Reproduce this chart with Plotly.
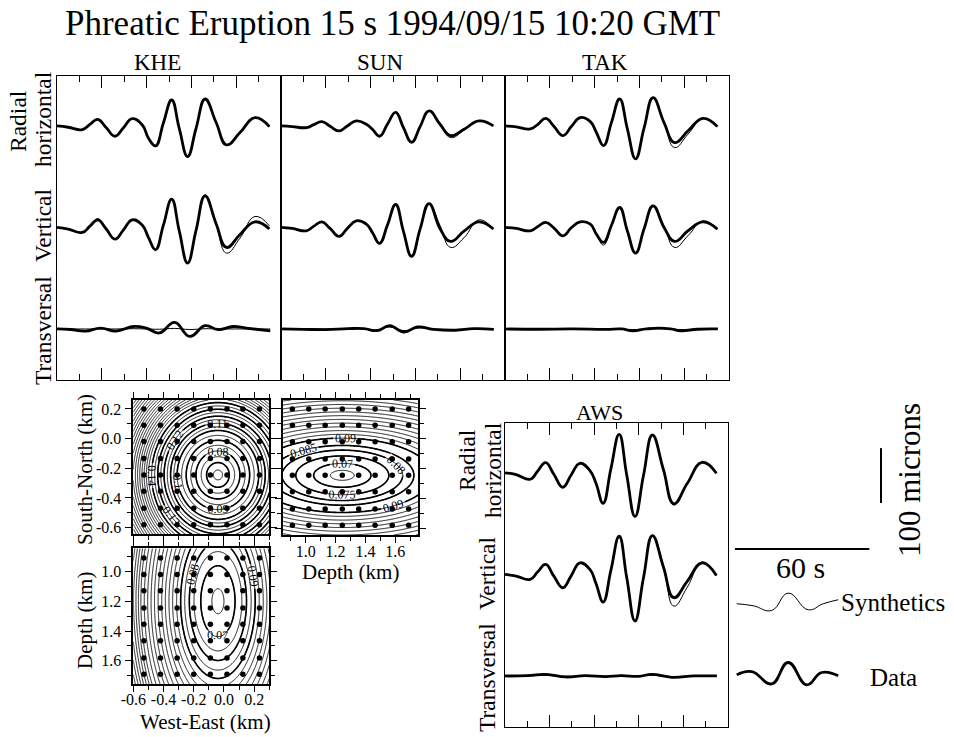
import numpy as np
import plotly.graph_objects as go

W, H = 954, 737
FONT = "Liberation Serif"

# ---------------- waveform readings (time in s, amplitude in microns) ----------------
T = [0, 5, 11.3, 14.7, 18.2, 21.9, 25.9, 29.6, 33.6, 38.1, 40.8, 44.0, 47.5, 51.2,
     54.6, 58.3, 62.1, 66.1, 71.0, 75.7, 81.7, 88.4, 94.8]

KHE_R_DATA = [0, -2.4, -6.7, 2.7, 12.1, -3.0, -18.8, -3.6, 13.3, 1.8, -22, -36.4, 5.5, 47.3,
              -4.8, -55.8, -4.2, 49.1, 6.7, -34.5, -12.1, 15.2, -1.2]
KHE_R_SYN = [0, -2.4, -6.7, 2.7, 12.1, -3.0, -18.8, -3.6, 13.3, 1.8, -22, -36.4, 5.5, 47.3,
             -4.8, -57.5, -4.2, 49.1, 6.7, -35.5, -12.1, 15.2, -1.2]
KHE_V_DATA = [0, -3.0, -9.1, 2.4, 13.9, -2.4, -21.2, -4.8, 13.9, 4.0, -18, -40.6, 4.2, 51.5,
              -6.7, -64.8, -4.8, 57.6, 7.3, -36.4, -12.7, 10.3, -3.0]
KHE_V_SYN = [0, -3.0, -9.1, 2.4, 16.0, -2.4, -21.2, -4.8, 13.9, 4.0, -18, -40.6, 4.2, 51.5,
             -6.7, -64.8, -4.8, 59.4, 5.0, -46.7, -19.4, 20.0, 3.0]

SUN_R_DATA = [0, -1.2, -3.0, 2.4, 7.9, -0.6, -9.1, 0, 9.1, 3.0, -6.0, -18.8, 3.0, 24.8,
              -2.4, -29.7, -1.2, 27.3, 3.0, -17.6, -6.0, 9.1, 0]
SUN_R_SYN = [0, -1.2, -3.0, 2.4, 7.9, -0.6, -9.1, 0, 9.1, 3.0, -6.0, -18.8, 3.0, 24.8,
             -2.4, -29.7, -1.2, 27.3, 3.0, -21.2, -7.9, 9.1, 0]
SUN_V_DATA = [0, -1.8, -6.1, 2.4, 10.3, -1.8, -16.4, -1.8, 12.1, 6.1, -9.1, -29.1, 4.2, 41.8,
              -6.1, -52.7, -3.0, 43.6, -2.4, -25.5, -6.7, 10.3, -3.0]
SUN_V_SYN = [0, -1.8, -6.1, 2.4, 10.3, -1.8, -16.4, -1.8, 12.1, 6.1, -9.1, -29.1, 4.2, 41.8,
             -6.1, -52.7, -3.0, 43.6, 3.6, -36.4, -18.8, 13.9, -3.0]

TAK_R_DATA = [0, -1.8, -5.5, 3.0, 13.9, -1.2, -17.6, -1.2, 15.2, 7.9, -12, -35.8, 6.0, 49.1,
              -4.8, -60.0, -3.6, 51.5, 6.0, -30.3, -9.0, 13.9, -1.2]
TAK_R_SYN = [0, -1.8, -5.5, 3.0, 13.9, -1.2, -17.6, -1.2, 15.2, 7.9, -12, -35.8, 6.0, 49.1,
             -4.8, -60.0, -3.6, 51.5, 6.0, -39.4, -15.0, 13.9, -1.2]
TAK_V_DATA = [0, -1.8, -6.1, 1.8, 9.1, -1.2, -15.2, -0.6, 10.3, 6.1, -12.1, -27.3, 3.6, 36.4,
              -6.1, -46.7, -2.4, 39.4, 0, -25.5, -6.0, 10.3, -3.0]
TAK_V_SYN = [0, -1.8, -6.1, 1.8, 9.1, -1.2, -15.2, -0.6, 10.3, 6.1, -12.1, -32.1, 3.6, 36.4,
             -6.1, -46.7, -2.4, 39.4, 3.0, -36.4, -15.0, 12.1, -3.0]

AWS_R_DATA = [0, -3.0, -11.5, 3.6, 18.8, -2.4, -26.1, -4.2, 17.6, 4.2, -18.8, -55.2, 7.9, 70.4,
              -4.2, -79.4, -4.8, 69.1, 6.7, -56.4, -19.4, 19.4, -0.6]
AWS_R_SYN = [0, -3.0, -11.5, 3.6, 18.8, -2.4, -26.1, -4.2, 17.6, 4.2, -18.8, -55.2, 7.9, 70.4,
             -4.2, -79.4, -4.8, 69.1, 6.7, -58.5, -20.5, 19.4, -0.6]
AWS_V_DATA = [0, -3.0, -9.1, 4.8, 18.2, -3.0, -24.2, -3.0, 21.2, 9.1, -16.4, -50.3, 7.9, 69.7,
              -6.1, -84.8, -6.1, 70.9, 14.0, -42.4, -12.7, 21.2, -1.8]
AWS_V_SYN = [0, -3.0, -9.1, 4.8, 18.2, -3.0, -24.2, -3.0, 21.2, 9.1, -16.4, -50.3, 7.9, 66.7,
             -6.1, -84.8, -6.1, 70.9, 18.0, -57.6, -23.6, 23.0, -1.8]

# transversal components (own reading times)
KHE_T_TIME = [0, 6, 12.7, 19.5, 26.3, 34.1, 39.9, 45.7, 52.5, 59.3, 66.1, 71.9, 78.7, 84.5, 95.2]
KHE_T_DATA = [0, -1.0, -4.0, 1.5, -4.0, 4.5, 1.5, -7.3, 12.0, -13.5, 6.0, -1.0, 4.5, 1.5, -3.5]
KHE_T_SYN = [0, 0, 0, 0, 0, 0.5, 0, -0.5, 1.0, -1.0, 0.5, 0, 0, 0, 0]

SUN_T_TIME = [0, 10, 20, 30, 37, 43, 48.5, 54.9, 60.9, 68, 78, 86, 95]
SUN_T_DATA = [0, -0.6, -1.2, 0.6, 0.6, -3.0, 6.0, -5.5, 3.6, -0.6, -2.4, 0.6, -0.6]
SUN_T_SYN = [0, 0, 0, 0, 0, -1.5, 3.5, -3.0, 1.5, 0, -0.5, 0, 0]

TAK_T_TIME = [0, 15, 30, 45, 52, 57, 63, 68.8, 74, 78.6, 86, 95]
TAK_T_DATA = [0, -0.5, 0, -0.8, 0, -3.5, 0, 1.6, 0, -3.5, -0.5, 0]
TAK_T_SYN = [0, 0, 0, 0, 0, -1.0, 0, 0.5, 0, -1.0, 0, 0]

AWS_T_TIME = [0, 10, 18.3, 27.2, 36, 45, 52, 60, 65.9, 74.8, 85, 95]
AWS_T_DATA = [0, 0.6, 3.0, -1.8, 0.6, -1.2, 0.6, -0.6, 3.0, -2.4, 0, 0]
AWS_T_SYN = [0, 0, 1.0, -0.6, 0, -0.6, 0, 0, 1.0, -1.0, 0, 0]

STATIONS = ["KHE", "SUN", "TAK", "AWS"]
WAVES = {
    "KHE": (KHE_R_DATA, KHE_R_SYN, KHE_V_DATA, KHE_V_SYN, KHE_T_TIME, KHE_T_DATA, KHE_T_SYN),
    "SUN": (SUN_R_DATA, SUN_R_SYN, SUN_V_DATA, SUN_V_SYN, SUN_T_TIME, SUN_T_DATA, SUN_T_SYN),
    "TAK": (TAK_R_DATA, TAK_R_SYN, TAK_V_DATA, TAK_V_SYN, TAK_T_TIME, TAK_T_DATA, TAK_T_SYN),
    "AWS": (AWS_R_DATA, AWS_R_SYN, AWS_V_DATA, AWS_V_SYN, AWS_T_TIME, AWS_T_DATA, AWS_T_SYN),
}

# legend sample waves and scale bars
LEG_T_SYN = [3.0, 10.4, 18.6, 26.0, 34.9, 41.6, 48.3]
LEG_SYN = [-2.4, -6.1, -14.6, 17.0, -13.4, -2.4, 4.9]
LEG_T_DATA = [3.0, 9.7, 18.6, 26.0, 34.2, 40.9, 48.3]
LEG_DATA = [0, 6.1, -16.4, 22.5, -18.2, 4.3, -1.8]
SCALE_SECONDS = 60
SCALE_MICRONS = 100

# ---------------- misfit grid-search readings ----------------
WE_TICKS = [-0.6, -0.4, -0.2, 0.0, 0.2]
WE_LABELS = ["-0.6", "-0.4", "-0.2", "0.0", "0.2"]
SN_TICKS = [-0.6, -0.4, -0.2, 0.0, 0.2]
SN_LABELS = ["-0.6", "-0.4", "-0.2", "0.0", "0.2"]
DEPTH_TICKS = [1.0, 1.2, 1.4, 1.6]
DEPTH_LABELS = ["1.0", "1.2", "1.4", "1.6"]

DOT_WE = [-0.53, -0.42, -0.31, -0.2, -0.09, 0.02, 0.125, 0.235]
DOT_SN = [0.2, 0.09, -0.02, -0.135, -0.245, -0.355, -0.47, -0.58]
DOT_DEPTH = [0.91, 1.02, 1.13, 1.245, 1.355, 1.465, 1.58, 1.69]

R_A = [0, 0.05, 0.1, 0.2, 0.3, 0.42, 0.51, 0.85]
Z_A = [0.063, 0.066, 0.072, 0.085, 0.1, 0.125, 0.145, 0.25]
R_B = [0, 0.06, 0.14, 0.22, 0.3, 0.42, 0.51, 0.85]
Z_B = [0.063, 0.066, 0.072, 0.085, 0.1, 0.125, 0.145, 0.25]
R_C = [0, 0.05, 0.08, 0.15, 0.2, 0.25, 0.5, 0.85]
Z_C = [0.063, 0.066, 0.07, 0.077, 0.085, 0.09, 0.14, 0.21]
BEST_WE, BEST_SN, BEST_DEPTH_B, BEST_DEPTH_C = -0.04, -0.245, 1.2, 1.245

WE_RANGE = [-0.6, 0.3]
SN_RANGE = [-0.645, 0.26]
DEPTH_RANGE = [0.845, 1.755]

# ---------------- layout geometry (pixels) ----------------
PANEL_PX = {"KHE": (57, 281, 76, 380), "SUN": (281, 505, 76, 380),
            "TAK": (505, 729, 76, 380), "AWS": (505, 728, 423, 727)}
LEGEND_PX = (730, 954, 423, 727)
CONT_PX = {"A": (133.3, 269.3, 400, 534.3), "B": (133.3, 269.3, 548.3, 684),
           "C": (282.7, 418.3, 400, 535)}
OFFSETS = [0, -185, -370]
Y_RANGE = [-463, 91]
X_RANGE = [0, 100]

fig = go.Figure()


def ax_name(i):
    return ("x", "y") if i == 1 else (f"x{i}", f"y{i}")


def dom(px):
    x0, x1, y0, y1 = px
    return [x0 / W, x1 / W], [1 - y1 / H, 1 - y0 / H]


layout_axes = {}
SEIS_X = dict(range=X_RANGE, showgrid=False, zeroline=False, showline=True, linecolor="black",
              linewidth=1.3, mirror="allticks", ticks="inside", ticklen=12, tickwidth=1,
              tickcolor="black", tickmode="linear", tick0=0, dtick=20, showticklabels=False,
              minor=dict(ticks="inside", ticklen=6, dtick=10, tick0=0, tickcolor="black",
                         tickwidth=1, showgrid=False),
              fixedrange=True, automargin=False)
SEIS_Y = dict(range=Y_RANGE, showgrid=False, zeroline=False, showline=True, linecolor="black",
              linewidth=1.3, mirror=True, ticks="", showticklabels=False, fixedrange=True,
              automargin=False)

WAVE_SMOOTH = 1.3
for i, st in enumerate(STATIONS, start=1):
    xd, yd = dom(PANEL_PX[st])
    xn, yn = ax_name(i)
    layout_axes["xaxis" if i == 1 else f"xaxis{i}"] = dict(domain=xd, anchor=yn, **SEIS_X)
    layout_axes["yaxis" if i == 1 else f"yaxis{i}"] = dict(domain=yd, anchor=xn, **SEIS_Y)
    r_d, r_s, v_d, v_s, t_t, t_d, t_s = WAVES[st]
    series = [(T, r_s, r_d, OFFSETS[0]), (T, v_s, v_d, OFFSETS[1]), (t_t, t_s, t_d, OFFSETS[2])]
    for tt, syn, dat, off in series:
        fig.add_trace(go.Scatter(x=tt, y=np.array(syn) + off, mode="lines", xaxis=xn, yaxis=yn,
                                 line=dict(color="black", width=1.0, shape="spline",
                                           smoothing=WAVE_SMOOTH),
                                 hoverinfo="skip"))
        fig.add_trace(go.Scatter(x=tt, y=np.array(dat) + off, mode="lines", xaxis=xn, yaxis=yn,
                                 line=dict(color="black", width=2.8, shape="spline",
                                           smoothing=WAVE_SMOOTH),
                                 hoverinfo="skip"))

# legend / scale-bar area (same time and amplitude scale as the seismograms)
xd, yd = dom(LEGEND_PX)
layout_axes["xaxis5"] = dict(domain=xd, anchor="y5", range=X_RANGE, visible=False,
                             fixedrange=True, automargin=False)
layout_axes["yaxis5"] = dict(domain=yd, anchor="x5", range=Y_RANGE, visible=False,
                             fixedrange=True, automargin=False)
LEG_SYN_BASE, LEG_DATA_BASE = -236, -368
fig.add_trace(go.Scatter(x=LEG_T_SYN, y=np.array(LEG_SYN) + LEG_SYN_BASE, mode="lines",
                         xaxis="x5", yaxis="y5", hoverinfo="skip",
                         line=dict(color="black", width=1.0, shape="spline", smoothing=1.3)))
fig.add_trace(go.Scatter(x=LEG_T_DATA, y=np.array(LEG_DATA) + LEG_DATA_BASE, mode="lines",
                         xaxis="x5", yaxis="y5", hoverinfo="skip",
                         line=dict(color="black", width=2.8, shape="spline", smoothing=1.3)))
bar_t0, bar_y = 2.2, -138.6
fig.add_trace(go.Scatter(x=[bar_t0, bar_t0 + SCALE_SECONDS], y=[bar_y, bar_y], mode="lines",
                         xaxis="x5", yaxis="y5", hoverinfo="skip",
                         line=dict(color="black", width=2)))
vbar_t, vbar_y0 = 67.4, -54.8
fig.add_trace(go.Scatter(x=[vbar_t, vbar_t], y=[vbar_y0, vbar_y0 + SCALE_MICRONS], mode="lines",
                         xaxis="x5", yaxis="y5", hoverinfo="skip",
                         line=dict(color="black", width=2)))

# ---------------- contour panels ----------------
TICKFONT = dict(family=FONT, size=16, color="black")


def cont_axis(rng, tickvals, ticktext, show, d, anchor, standoff):
    return dict(domain=d, anchor=anchor, range=rng, showgrid=False, zeroline=False,
                showline=True, linecolor="black", linewidth=1.7, mirror="allticks",
                ticks="outside", ticklen=6, tickwidth=1, tickcolor="black",
                tickmode="array", tickvals=tickvals, ticktext=ticktext, showticklabels=show,
                tickfont=TICKFONT, ticklabelstandoff=standoff,
                minor=dict(ticks="outside", ticklen=4, dtick=0.1, tick0=0, tickcolor="black",
                           tickwidth=1, showgrid=False),
                fixedrange=True, automargin=False)


xA, yA = dom(CONT_PX["A"])
xB, yB = dom(CONT_PX["B"])
xC, yC = dom(CONT_PX["C"])
layout_axes["xaxis6"] = cont_axis(WE_RANGE, WE_TICKS, WE_LABELS, False, xA, "y6", 0)
layout_axes["yaxis6"] = cont_axis(SN_RANGE, SN_TICKS, SN_LABELS, True, yA, "x6", 1)
layout_axes["xaxis7"] = cont_axis(WE_RANGE, WE_TICKS, WE_LABELS, True, xB, "y7", -6)
layout_axes["yaxis7"] = cont_axis(DEPTH_RANGE[::-1], DEPTH_TICKS, DEPTH_LABELS, True, yB, "x7", 1)
layout_axes["xaxis8"] = cont_axis(DEPTH_RANGE, DEPTH_TICKS, DEPTH_LABELS, True, xC, "y8", -5)
layout_axes["yaxis8"] = cont_axis(SN_RANGE, SN_TICKS, SN_LABELS, False, yC, "x8", 0)


def misfit(xs, ys, cx, cy, sx, sy, R, Z):
    X, Y = np.meshgrid(xs, ys)
    r = np.sqrt(((X - cx) / sx) ** 2 + ((Y - cy) / sy) ** 2)
    return np.interp(r, R, Z)


g_we = np.linspace(WE_RANGE[0], WE_RANGE[1], 201)
g_sn = np.linspace(SN_RANGE[0], SN_RANGE[1], 201)
g_dp = np.linspace(DEPTH_RANGE[0], DEPTH_RANGE[1], 201)

panels = [
    ("x6", "y6", g_we, g_sn, misfit(g_we, g_sn, BEST_WE, BEST_SN, 0.9, 1.0, R_A, Z_A),
     (0.07, 0.14, 0.01, ".2~f"), DOT_WE, DOT_SN),
    ("x7", "y7", g_we, g_dp, misfit(g_we, g_dp, BEST_WE, BEST_DEPTH_B, 1.0, 2.1, R_B, Z_B),
     (0.07, 0.09, 0.01, ".2~f"), DOT_WE, DOT_DEPTH),
    ("x8", "y8", g_dp, g_sn, misfit(g_dp, g_sn, BEST_DEPTH_C, BEST_SN, 2.4, 1.0, R_C, Z_C),
     (0.07, 0.09, 0.005, ".3~f"), DOT_DEPTH, DOT_SN),
]
BLACK = [[0, "#000000"], [1, "#000000"]]
for xn, yn, gx, gy, Z, (s0, s1, ds, fmt), dx, dy in panels:
    fig.add_trace(go.Contour(x=gx, y=gy, z=Z, xaxis=xn, yaxis=yn, showscale=False,
                             colorscale=BLACK, autocontour=False, hoverinfo="skip",
                             contours=dict(coloring="lines", start=0.065, end=0.3, size=0.005),
                             line=dict(width=0.9, smoothing=1, color="#000000")))
    fig.add_trace(go.Contour(x=gx, y=gy, z=Z, xaxis=xn, yaxis=yn, showscale=False,
                             colorscale=BLACK, autocontour=False, hoverinfo="skip",
                             contours=dict(coloring="lines", start=s0, end=s1, size=ds,
                                           showlabels=True, labelformat=fmt,
                                           labelfont=dict(family=FONT, size=12,
                                                          color="#000000")),
                             line=dict(width=1.6, smoothing=1, color="#000000")))
    px_, py_ = np.meshgrid(dx, dy)
    fig.add_trace(go.Scatter(x=px_.ravel(), y=py_.ravel(), mode="markers", xaxis=xn, yaxis=yn,
                             marker=dict(color="black", size=5.5), hoverinfo="skip"))


# ---------------- text ----------------
def ann(text, xpx, ypx, size, angle=0, xanchor="center"):
    return dict(text=text, x=xpx / W, y=1 - ypx / H, xref="paper", yref="paper",
                showarrow=False, font=dict(family=FONT, size=size, color="black"),
                textangle=angle, xanchor=xanchor, yanchor="middle")


ROW = 23.5
annotations = [
    ann("Phreatic Eruption 15 s 1994/09/15 10:20 GMT", 392, 24, 35),
    ann("KHE", 157, 63, 23), ann("SUN", 380, 63, 23), ann("TAK", 605, 63, 23),
    ann("AWS", 599, 412, 22),
    ann("Radial", 18, 121, ROW, -90), ann("horizontal", 43, 119, ROW, -90),
    ann("Vertical", 43, 225, ROW, -90), ann("Transversal", 43, 331, ROW, -90),
    ann("Radial", 467, 460, ROW, -90), ann("horizontal", 493, 470, ROW, -90),
    ann("Vertical", 487, 573, ROW, -90), ann("Transversal", 487, 677, ROW, -90),
    ann("South-North (km)", 85, 470, 21, -90), ann("Depth (km)", 85, 621, 21, -90),
    ann("West-East (km)", 205, 722, 21), ann("Depth (km)", 350, 572, 21),
    ann("60 s", 800, 567, 30), ann("100 microns", 909, 480, 31, -90),
    ann("Synthetics", 839, 602, 25, 0, "left"), ann("Data", 893, 677, 25),
]

fig.update_layout(template="none", width=W, height=H, margin=dict(l=0, r=0, t=0, b=0, pad=0),
                  paper_bgcolor="white", plot_bgcolor="white", showlegend=False,
                  font=dict(family=FONT, color="black"), annotations=annotations,
                  **layout_axes)
fig.write_html("out.html")
